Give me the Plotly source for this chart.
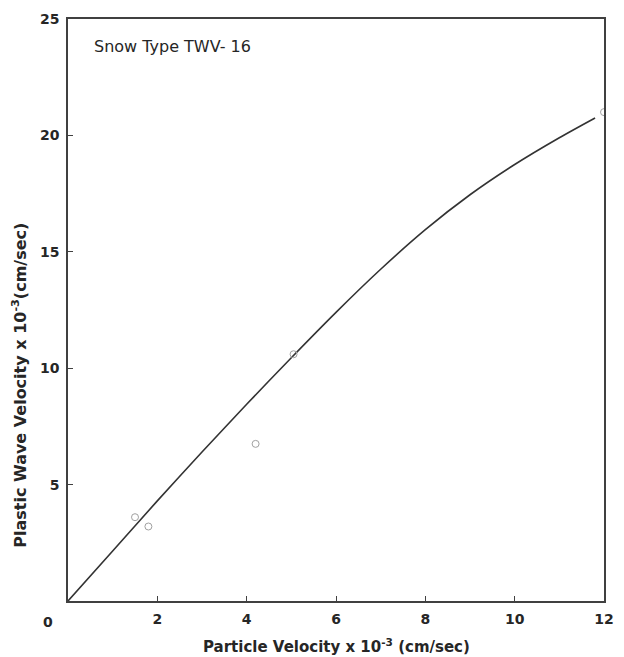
import plotly.graph_objects as go

# Measured points: particle velocity vs plastic wave velocity
particle_v = [1.5, 1.8, 4.2, 5.05, 12.0]
wave_v = [3.6, 3.2, 6.75, 10.6, 21.0]

# Fitted curve through the data
curve_x = [0, 1, 2, 3, 4, 5, 6, 7, 8, 9, 10, 11, 11.8]
curve_y = [0, 2.15, 4.3, 6.4, 8.45, 10.45, 12.4, 14.25, 15.95, 17.45, 18.75, 19.9, 20.75]

x_ticks = [2, 4, 6, 8, 10, 12]
y_ticks = [5, 10, 15, 20, 25]

font_family = "DejaVu Sans, Verdana, sans-serif"
ink = "#262626"

fig = go.Figure()
fig.add_trace(go.Scatter(
    x=curve_x, y=curve_y, mode="lines",
    line=dict(color="#333333", width=1.6, shape="spline", smoothing=0.8),
    hoverinfo="skip", showlegend=False,
))
fig.add_trace(go.Scatter(
    x=particle_v, y=wave_v, mode="markers",
    marker=dict(symbol="circle-open", size=7, color="#a0a0a0", line=dict(width=1)),
    showlegend=False,
))

axis_common = dict(
    showgrid=False, zeroline=False, showline=True, linecolor="#404040", linewidth=1.5,
    mirror=True, ticks="inside", ticklen=5, tickcolor="#404040", tickwidth=1.2,
    tickfont=dict(family=font_family, size=14, color=ink, weight="bold"),
)

fig.update_layout(
    width=624, height=657,
    margin=dict(l=68, r=10, t=19, b=56),
    paper_bgcolor="white", plot_bgcolor="white",
    xaxis=dict(range=[0, 12], tickvals=x_ticks, ticklabelstandoff=4, **axis_common),
    yaxis=dict(range=[0, 25], tickvals=y_ticks, ticklabelstandoff=4, **axis_common),
    annotations=[
        dict(x=0, y=0, xref="x", yref="y", text="0", showarrow=False,
             xshift=-20, yshift=-21,
             font=dict(family=font_family, size=14, color=ink, weight="bold")),
        dict(x=0.045, y=0.952, xref="paper", yref="paper", text="Snow Type TWV- 16",
             showarrow=False, xanchor="left", yanchor="middle",
             font=dict(family=font_family, size=16, color=ink)),
        dict(x=0.5, y=0, xref="paper", yref="paper", yanchor="top", yshift=-33,
             text="<b>Particle Velocity x 10<sup>-3</sup> (cm/sec)</b>",
             showarrow=False, font=dict(family=font_family, size=15, color=ink)),
        dict(x=0, y=0.37, xref="paper", yref="paper", xshift=-48,
             text="<b>Plastic Wave Velocity x 10<sup>-3</sup>(cm/sec)</b>",
             textangle=-90, showarrow=False, xanchor="center", yanchor="middle",
             font=dict(family=font_family, size=16, color=ink)),
    ],
)

fig.write_html("out.html")
